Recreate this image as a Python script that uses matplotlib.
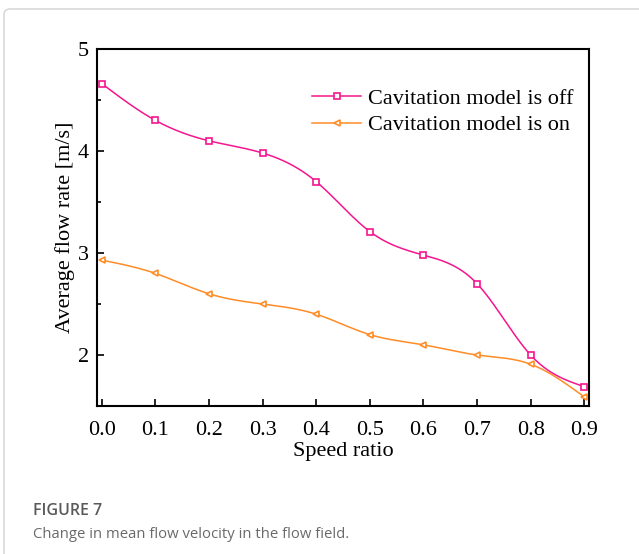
import numpy as np
import matplotlib.pyplot as plt
from matplotlib.patches import FancyBboxPatch

# values
speed_ratio = [0.0, 0.1, 0.2, 0.3, 0.4, 0.5, 0.6, 0.7, 0.8, 0.9]
flow_off = [4.66, 4.30, 4.10, 3.98, 3.70, 3.21, 2.98, 2.70, 2.00, 1.69]
flow_on = [2.93, 2.80, 2.60, 2.50, 2.40, 2.20, 2.10, 2.00, 1.91, 1.59]

PINK = '#F5158E'
ORANGE = '#FF8C26'


def spline(x, y, n=300):
    # natural cubic spline through the points, just for drawing a smooth line
    x = np.asarray(x, float)
    y = np.asarray(y, float)
    k = len(x)
    h = np.diff(x)
    A = np.zeros((k, k))
    b = np.zeros(k)
    A[0, 0] = A[-1, -1] = 1
    for i in range(1, k - 1):
        A[i, i - 1] = h[i - 1]
        A[i, i] = 2 * (h[i - 1] + h[i])
        A[i, i + 1] = h[i]
        b[i] = 3 * ((y[i + 1] - y[i]) / h[i] - (y[i] - y[i - 1]) / h[i - 1])
    c = np.linalg.solve(A, b)
    xs = np.linspace(x[0], x[-1], n)
    idx = np.clip(np.searchsorted(x, xs) - 1, 0, k - 2)
    dx = xs - x[idx]
    bb = (y[idx + 1] - y[idx]) / h[idx] - h[idx] * (2 * c[idx] + c[idx + 1]) / 3
    dd = (c[idx + 1] - c[idx]) / (3 * h[idx])
    ys = y[idx] + bb * dx + c[idx] * dx ** 2 + dd * dx ** 3
    return xs, ys


plt.rcParams['font.family'] = ['Liberation Serif', 'DejaVu Serif']

fig = plt.figure(figsize=(6.39, 5.54), dpi=100)
ax = fig.add_axes([97 / 639, 1 - 406 / 554, (589 - 97) / 639, (406 - 49) / 554])

# card frame around the figure
fig.patches.append(FancyBboxPatch((4 / 639, -0.05), 1.2, 1.05 - 9 / 554,
                                  boxstyle='round,pad=0,rounding_size=0.01',
                                  transform=fig.transFigure, fill=False,
                                  edgecolor='#d9d9d9', linewidth=1.2))

xs, ys = spline(speed_ratio, flow_off)
ax.plot(xs, ys, color=PINK, lw=1.1)
ax.plot(speed_ratio, flow_off, ls='none', marker='s', ms=4.5, mfc='white',
        mec=PINK, mew=1.2)
xs, ys = spline(speed_ratio, flow_on)
ax.plot(xs, ys, color=ORANGE, lw=1.1)
ax.plot(speed_ratio, flow_on, ls='none', marker='<', ms=5, mfc='white',
        mec=ORANGE, mew=1.2)

# legend handles
ax.plot([], [], color=PINK, lw=1.1, marker='s', ms=4, mfc='white', mec=PINK,
        mew=1.2, label='Cavitation model is off')
ax.plot([], [], color=ORANGE, lw=1.1, marker='<', ms=4.5, mfc='white', mec=ORANGE,
        mew=1.2, label='Cavitation model is on')
handles, labels = ax.get_legend_handles_labels()
ax.legend(handles[-2:], labels[-2:], loc='upper right',
          bbox_to_anchor=(1.009, 0.945), frameon=False, fontsize=16,
          handlelength=2.2, handletextpad=0.3, labelspacing=0.25)

ax.set_xlim(-0.009, 0.909)
ax.set_ylim(1.5, 5)
ax.set_xticks(speed_ratio)
ax.set_xticklabels([f'{v:.1f}' for v in speed_ratio])
ax.set_yticks([2, 3, 4, 5])
ax.set_yticks([2.5, 3.5, 4.5], minor=True)
ax.tick_params(axis='x', direction='in', length=5, width=1.2, labelsize=16, pad=11)
ax.tick_params(axis='y', which='major', direction='in', length=5, width=1.2,
               labelsize=16, pad=6)
ax.tick_params(axis='y', which='minor', direction='in', length=3, width=1.2)
for s in ax.spines.values():
    s.set_linewidth(1.5)

ax.set_xlabel('Speed ratio', fontsize=16, labelpad=1)
ax.set_ylabel('Average flow rate [m/s]', fontsize=16, labelpad=2)

fig.text(33 / 639, 1 - 511 / 554, 'FIGURE 7', family='Open Sans', fontsize=11.5,
         fontweight='semibold', color='#5a5a5a', va='center')
fig.text(33 / 639, 1 - 535 / 554, 'Change in mean flow velocity in the flow field.',
         family='Open Sans', fontsize=10.7, color='#6a6a6a', va='center')

fig.savefig('out.png', dpi=100)
